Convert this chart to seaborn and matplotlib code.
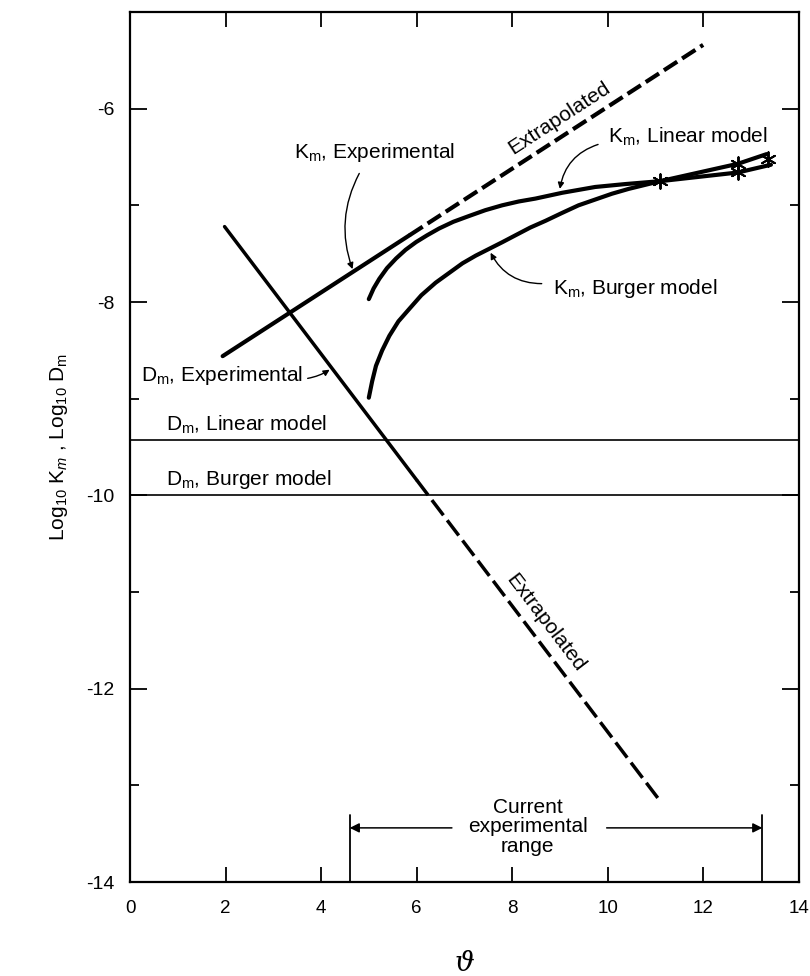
import matplotlib
matplotlib.use("Agg")
import matplotlib.pyplot as plt
from matplotlib.patches import FancyArrowPatch
from matplotlib.ticker import MultipleLocator
import seaborn as sns
import numpy as np

# ---------------- data ----------------
k_exp_solid_theta = [1.94, 5.85]
k_exp_solid_val = [-8.56, -7.31]
k_exp_dash_theta = [5.85, 12.0]
k_exp_dash_val = [-7.31, -5.34]

d_exp_solid_theta = [1.98, 6.0]
d_exp_solid_val = [-7.22, -9.84]
d_exp_dash_theta = [6.0, 11.05]
d_exp_dash_val = [-9.84, -13.13]

k_lin_theta = [5.0, 5.1, 5.22, 5.38, 5.57, 5.77, 5.99, 6.22, 6.47, 6.77, 7.10, 7.44, 7.79, 8.14,
               8.49, 9.05, 9.74, 10.37, 11.1, 12.73, 13.42]
k_lin_val = [-7.97, -7.86, -7.76, -7.65, -7.55, -7.46, -7.38, -7.31, -7.24, -7.17, -7.11, -7.05,
             -7.00, -6.96, -6.93, -6.87, -6.81, -6.78, -6.75, -6.66, -6.58]

k_bur_theta = [5.0, 5.07, 5.15, 5.28, 5.43, 5.62, 5.85, 6.1, 6.40, 6.68, 6.96, 7.24, 7.52, 7.8,
               8.07, 8.38, 8.70, 9.04, 9.39, 9.74, 10.09, 10.44, 11.1, 12.73, 13.33]
k_bur_val = [-8.99, -8.82, -8.66, -8.50, -8.35, -8.20, -8.07, -7.93, -7.80, -7.70, -7.60, -7.52,
             -7.45, -7.38, -7.31, -7.23, -7.16, -7.08, -7.00, -6.94, -6.88, -6.83, -6.75, -6.57, -6.47]

marker_theta = [11.1, 12.73, 12.73, 13.35]
marker_val = [-6.75, -6.66, -6.57, -6.52]

d_lin_model = -9.43
d_bur_model = -10.0

range_lo = 4.6
range_hi = 13.24

x_ticks = [0, 2, 4, 6, 8, 10, 12, 14]
y_ticks = [-14, -12, -10, -8, -6]

# ---------------- style ----------------
sns.set_theme(style="ticks")
plt.rcParams["font.family"] = ["Liberation Sans", "DejaVu Sans"]
plt.rcParams["mathtext.fontset"] = "custom"
plt.rcParams["mathtext.rm"] = "Liberation Sans"
plt.rcParams["mathtext.it"] = "Liberation Sans:italic"
plt.rcParams["axes.unicode_minus"] = False
plt.rcParams["text.color"] = "black"
plt.rcParams["axes.labelcolor"] = "black"
plt.rcParams["xtick.color"] = "black"
plt.rcParams["ytick.color"] = "black"

fig = plt.figure(figsize=(8.1, 9.76), dpi=100)
ax = fig.add_axes([0.1605, 0.0963, 0.8255, 0.8914])

K = "black"
sns.lineplot(x=k_exp_solid_theta, y=k_exp_solid_val, ax=ax, color=K, lw=3.0, sort=False, estimator=None)
sns.lineplot(x=k_exp_dash_theta, y=k_exp_dash_val, ax=ax, color=K, lw=3.0, sort=False, estimator=None,
             linestyle=(0, (3.8, 1.4)))
sns.lineplot(x=d_exp_solid_theta, y=d_exp_solid_val, ax=ax, color=K, lw=2.5, sort=False, estimator=None)
sns.lineplot(x=d_exp_dash_theta, y=d_exp_dash_val, ax=ax, color=K, lw=2.5, sort=False, estimator=None,
             linestyle=(0, (5.5, 1.8)))
sns.lineplot(x=k_lin_theta, y=k_lin_val, ax=ax, color=K, lw=3.0, sort=False, estimator=None)
sns.lineplot(x=k_bur_theta, y=k_bur_val, ax=ax, color=K, lw=3.0, sort=False, estimator=None)
sns.scatterplot(x=marker_theta, y=marker_val, ax=ax, marker=(6, 2, 0), s=110,
                edgecolor=K, facecolor=K, linewidth=1.4, zorder=5)

ax.axhline(d_lin_model, color=K, lw=1.2)
ax.axhline(d_bur_model, color=K, lw=1.2)

ax.set_xlim(0, 14)
ax.set_ylim(-14, -5)
ax.set_xticks(x_ticks)
ax.set_yticks(y_ticks)
ax.yaxis.set_minor_locator(MultipleLocator(1))
ax.tick_params(axis="both", which="both", direction="in", top=True, right=True, colors=K)
ax.tick_params(axis="x", which="major", length=11, width=1.3, pad=13, labelsize=13.5)
ax.tick_params(axis="y", which="major", length=12, width=1.3, pad=11, labelsize=14)
ax.tick_params(axis="y", which="minor", length=6.5, width=1.3)
for s in ax.spines.values():
    s.set_linewidth(1.6)
    s.set_color(K)

ax.set_ylabel(r"Log$_{10}$ K$_{m}$ , Log$_{10}$ D$_{\rm m}$", fontsize=15, labelpad=12)
ax.set_xlabel("ϑ", fontsize=20, labelpad=24, family=["DejaVu Serif"], style="italic")

fs = 15
ax.text(3.44, -6.51, r"K$_{\rm m}$, Experimental", fontsize=fs, ha="left", va="baseline")
ax.text(10.0, -6.35, r"K$_{\rm m}$, Linear model", fontsize=fs, ha="left", va="baseline")
ax.text(8.85, -7.92, r"K$_{\rm m}$, Burger model", fontsize=fs, ha="left", va="baseline")
ax.text(0.24, -8.82, r"D$_{\rm m}$, Experimental", fontsize=fs, ha="left", va="baseline")
ax.text(0.745, -9.33, r"D$_{\rm m}$, Linear model", fontsize=fs, ha="left", va="baseline")
ax.text(0.745, -9.89, r"D$_{\rm m}$, Burger model", fontsize=fs, ha="left", va="baseline")
ax.text(8.98, -6.10, "Extrapolated", fontsize=fs, rotation=33, ha="center", va="center",
        rotation_mode="anchor")
ax.text(8.70, -11.32, "Extrapolated", fontsize=fs, rotation=-52.7, ha="center", va="center",
        rotation_mode="anchor")

def curved_arrow(tail, tip, rad):
    a = FancyArrowPatch(tail, tip, connectionstyle=f"arc3,rad={rad}", arrowstyle="-|>",
                        mutation_scale=9, lw=1.0, color=K, shrinkA=0, shrinkB=0)
    ax.add_patch(a)

curved_arrow((4.80, -6.67), (4.66, -7.66), 0.22)
curved_arrow((9.80, -6.37), (9.0, -6.83), 0.3)
curved_arrow((8.62, -7.81), (7.55, -7.49), -0.3)
curved_arrow((3.72, -8.79), (4.18, -8.70), 0.1)

# experimental range bracket
ax.plot([range_lo, range_lo], [-14, -13.31], color=K, lw=1.3)
ax.plot([range_hi, range_hi], [-14, -13.31], color=K, lw=1.3)
ax.annotate("", xy=(range_lo, -13.44), xytext=(6.74, -13.44),
            arrowprops=dict(arrowstyle="-|>", color=K, lw=1.1, mutation_scale=14, shrinkA=0, shrinkB=0))
ax.annotate("", xy=(range_hi, -13.44), xytext=(9.98, -13.44),
            arrowprops=dict(arrowstyle="-|>", color=K, lw=1.1, mutation_scale=14, shrinkA=0, shrinkB=0))
ax.text(8.33, -13.43, "Current\nexperimental\nrange", fontsize=fs,
        ha="center", va="center", linespacing=1.05)

fig.savefig("out.png", dpi=100)
